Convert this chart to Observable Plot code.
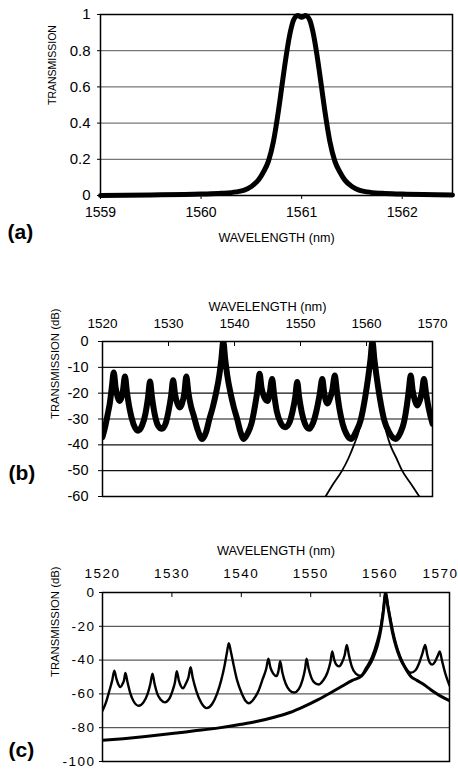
<!DOCTYPE html>
<html><head><meta charset="utf-8">
<script src="https://cdn.jsdelivr.net/npm/d3@7"></script>
<script src="https://cdn.jsdelivr.net/npm/@observablehq/plot@0.6"></script>
<style>
html,body{margin:0;padding:0;background:#fff;}
#root{position:relative;width:458px;height:769px;overflow:hidden;background:#fff;}
.panel{position:absolute;left:0;}
</style></head><body><div id="root"></div>
<script>
// ---------- Panel (a) ----------
const aXTicks = [1559, 1560, 1561, 1562];
const aYTicks = [0, 0.2, 0.4, 0.6, 0.8, 1];
const aWavelength = [1559, 1559.5, 1560, 1560.2, 1560.35, 1560.43, 1560.5, 1560.57, 1560.62, 1560.67, 1560.72, 1560.77, 1560.8, 1560.83, 1560.86, 1560.89, 1560.92, 1560.96, 1561, 1561.04, 1561.08, 1561.11, 1561.14, 1561.17, 1561.2, 1561.23, 1561.28, 1561.33, 1561.38, 1561.43, 1561.5, 1561.57, 1561.65, 1561.8, 1562, 1562.5];
const aTransmission = [0, 0.003, 0.008, 0.012, 0.02, 0.03, 0.05, 0.085, 0.13, 0.19, 0.3, 0.47, 0.59, 0.71, 0.82, 0.91, 0.97, 0.995, 0.985, 0.995, 0.97, 0.91, 0.82, 0.71, 0.59, 0.47, 0.3, 0.19, 0.13, 0.085, 0.05, 0.03, 0.02, 0.012, 0.008, 0.003];

// ---------- Panel (b) ----------
const bXTicks = [1520, 1530, 1540, 1550, 1560, 1570];
const bYTicks = [0, -10, -20, -30, -40, -50, -60];
const bCombWavelength = [1520.0,1520.4,1520.8,1521.1,1521.4,1521.7,1522.0,1522.3,1522.6,1522.9,1523.1,1523.4,1523.7,1524.1,1524.7,1525.4,1526.0,1526.5,1526.9,1527.2,1527.5,1527.9,1528.4,1529.0,1529.6,1530.0,1530.4,1530.7,1531.0,1531.35,1531.7,1532.05,1532.4,1532.7,1533.0,1533.4,1533.8,1534.4,1535.1,1535.7,1536.2,1536.7,1537.2,1537.7,1538.0,1538.3,1538.6,1538.9,1539.4,1539.9,1540.4,1540.9,1541.4,1542.0,1542.6,1543.1,1543.5,1543.8,1544.1,1544.5,1545.0,1545.3,1545.7,1546.0,1546.4,1547.0,1547.7,1548.3,1548.8,1549.2,1549.5,1549.8,1550.2,1550.7,1551.3,1551.9,1552.4,1552.9,1553.3,1553.6,1553.85,1554.1,1554.4,1554.8,1555.2,1555.5,1555.9,1556.4,1557.0,1557.7,1558.4,1559.1,1559.8,1560.3,1560.6,1560.9,1561.2,1561.5,1562.0,1562.7,1563.4,1564.4,1565.1,1565.7,1566.1,1566.4,1566.7,1567.0,1567.35,1567.7,1568.05,1568.4,1568.7,1569.0,1569.4,1570.0];
const bCombDb = [-37,-33,-28,-24,-18,-12,-18,-21.5,-23,-21.5,-19,-13.5,-19.5,-26,-32,-34.5,-32.5,-28,-21.6,-15.5,-21.6,-28,-32.5,-33.8,-31.5,-27,-21,-15,-20.5,-24,-25.5,-24,-20,-13.5,-19.5,-25,-28.5,-34,-37.7,-35,-30,-25.5,-20,-13,-7,0,-7,-13,-20,-25.5,-30,-35,-37.7,-35.5,-31.5,-25,-18.5,-12.5,-18,-21.5,-23,-20.5,-14.5,-20.5,-27,-31.5,-33.2,-31.5,-27,-21.6,-15.7,-21.6,-27.5,-32,-33.8,-31.5,-27,-20.5,-14.5,-20,-23,-24,-22.5,-19,-13.2,-19,-26,-32,-36,-37.7,-35,-30.6,-21.6,-13,-7,0,-7,-13,-21.6,-30.6,-35,-37.7,-35.5,-31,-25,-19,-13.2,-19,-23,-24.8,-23,-19.5,-14.5,-19.5,-25.5,-31.8];
const bSingleWavelength = [1553.8,1555.0,1556.3,1557.3,1558.1,1558.8,1559.4,1559.9,1560.4,1560.9,1561.4,1561.9,1562.4,1563.0,1563.6,1564.5,1565.4,1566.7,1568.0];
const bSingleDb = [-60,-55,-50,-45,-40,-35,-28,-20,-11,0,-11,-20,-28,-35,-40,-45,-50,-55,-60];

// ---------- Panel (c) ----------
const cXTicks = [1520, 1530, 1540, 1550, 1560, 1570];
const cYTicks = [0, -20, -40, -60, -80, -100];
const cCombWavelength = [1520.0,1520.5,1521.0,1521.4,1521.7,1522.0,1522.3,1522.6,1522.9,1523.1,1523.3,1523.6,1524.0,1524.5,1525.2,1525.9,1526.5,1526.9,1527.2,1527.5,1527.9,1528.4,1529.0,1529.6,1530.1,1530.45,1530.7,1531.0,1531.3,1531.6,1532.0,1532.4,1532.7,1533.0,1533.5,1534.2,1535.0,1535.8,1536.5,1537.1,1537.6,1537.95,1538.2,1538.5,1538.9,1539.4,1540.1,1540.6,1541.1,1541.8,1542.5,1543.1,1543.6,1543.9,1544.2,1544.6,1545.1,1545.35,1545.6,1545.9,1546.4,1547.0,1547.6,1548.3,1548.8,1549.2,1549.4,1549.7,1550.1,1550.6,1551.2,1551.8,1552.4,1552.85,1553.1,1553.4,1553.75,1554.1,1554.5,1554.9,1555.2,1555.5,1555.9,1556.5,1557.2,1558.0,1558.8,1559.5,1560.1,1560.45,1560.8,1561.1,1561.4,1561.8,1562.3,1562.9,1563.6,1564.4,1565.1,1565.7,1566.1,1566.5,1566.8,1567.15,1567.5,1567.9,1568.3,1568.6,1568.9,1569.4,1570.0];
const cCombDb = [-70,-65,-58,-52,-46.2,-51,-54.5,-56,-54,-52,-47.6,-53,-59.5,-64.5,-67,-65,-60,-54,-48,-54,-60,-63.5,-65,-63,-58,-53,-46.6,-52,-55.5,-56.7,-54,-50,-44.2,-50.5,-58,-65,-68.4,-66,-60,-52,-43,-35,-30,-35,-43,-52,-60,-64,-65.5,-63,-58,-51,-45,-39.2,-44.5,-48,-49.5,-46.5,-40.7,-47,-54,-58,-59.2,-57,-52,-45,-39.2,-45,-50.5,-53.5,-54.4,-52,-47.5,-41,-34.9,-40,-43,-43.7,-41.5,-37,-31,-37,-43.5,-48,-49.3,-44.5,-38.5,-30,-20,-10.5,0,-7,-13.5,-22,-30.5,-38,-44,-47.5,-46,-41,-36,-31,-37,-41.5,-42.7,-41,-37.5,-34.9,-40,-48,-55];
const cSingleWavelength = [1520,1523,1526.2,1530,1533,1536.8,1540,1542,1545,1547,1549,1551,1553,1554.5,1556,1557.3,1558.2,1559.0,1559.6,1560.1,1560.45,1560.8,1561.1,1561.4,1561.8,1562.3,1562.9,1563.6,1564.4,1565.3,1566.3,1567.3,1568.6,1570];
const cSingleDb = [-87.5,-86.5,-85.2,-83.5,-82,-80.1,-78,-76.5,-73.5,-71,-67.5,-63.5,-59,-55.5,-52,-49.5,-44.5,-38.5,-31.5,-22,-12,0,-8,-15,-24,-32,-39,-44.5,-49.5,-52,-54.5,-57.5,-61,-64];

const xTitle = "WAVELENGTH (nm)";
const yTitleA = "TRANSMISSION";
const yTitleDb = "TRANSMISSION (dB)";

const zip = (xs, ys) => xs.map((w, i) => ({w, v: ys[i]}));
const font = "'Liberation Sans', Arial, Helvetica, sans-serif";
const baseStyle = {fontFamily: font, fontSize: "13px", color: "#000", background: "#fff", overflow: "visible"};
const fmt = d => String(d);
const root = document.getElementById("root");
function place(el, top) { const d = document.createElement("div"); d.className = "panel"; d.style.top = top + "px"; d.appendChild(el); root.appendChild(d); return el; }

// Panel (a)
const chartA = Plot.plot({
  width: 458, height: 255,
  marginLeft: 100, marginRight: 6, marginTop: 14, marginBottom: 60,
  style: baseStyle,
  x: {domain: [1559, 1562.5]},
  y: {domain: [0, 1]},
  marks: [
    Plot.gridY(aYTicks, {stroke: "#555", strokeOpacity: 1, strokeWidth: 1}),
    Plot.line(zip(aWavelength, aTransmission), {x: "w", y: "v", stroke: "#000", strokeWidth: 5, curve: "monotone-x"}),
    Plot.frame({stroke: "#000", strokeWidth: 1.5}),
    Plot.axisX(aXTicks, {anchor: "bottom", tickSize: 4, tickPadding: 8, label: null, tickFormat: fmt, fontSize: 14}),
    Plot.axisY(aYTicks, {anchor: "left", tickSize: 3, tickPadding: 7, label: null, tickFormat: fmt, fontSize: 15}),
    Plot.text([xTitle], {text: d => d, frameAnchor: "bottom", dy: 46, fontSize: 12.6}),
    Plot.text([yTitleA], {text: d => d, frameAnchor: "left", dx: -48, rotate: -90, fontSize: 10.5}),
    Plot.text(["(a)"], {text: d => d, frameAnchor: "bottom-left", dx: -93, dy: 43, textAnchor: "start", fontWeight: "bold", fontSize: 21})
  ]
});
place(chartA, 0);

// Panel (b)
const chartB = Plot.plot({
  width: 458, height: 255,
  marginLeft: 102, marginRight: 26, marginTop: 86, marginBottom: 14,
  style: baseStyle,
  x: {domain: [1520, 1570]},
  y: {domain: [-60, 0]},
  marks: [
    Plot.gridY(bYTicks, {stroke: "#111", strokeOpacity: 1, strokeWidth: 1.2}),
    Plot.line(zip(bSingleWavelength, bSingleDb), {x: "w", y: "v", stroke: "#000", strokeWidth: 1.8, curve: "monotone-x", clip: true}),
    Plot.line(zip(bCombWavelength, bCombDb), {x: "w", y: "v", stroke: "#000", strokeWidth: 6, curve: "monotone-x", clip: true}),
    Plot.frame({stroke: "#000", strokeWidth: 1.5}),
    Plot.axisX(bXTicks, {anchor: "top", tickSize: -4, tickPadding: 18, label: null, tickFormat: fmt, fontSize: 13.5}),
    Plot.axisY(bYTicks, {anchor: "left", tickSize: 4, tickPadding: 10, label: null, tickFormat: fmt, fontSize: 14.5}),
    Plot.text([xTitle], {text: d => d, frameAnchor: "top", dy: -40, fontSize: 12.8}),
    Plot.text([yTitleDb], {text: d => d, frameAnchor: "left", dx: -47, rotate: -90, fontSize: 11.3}),
    Plot.text(["(b)"], {text: d => d, frameAnchor: "bottom-left", dx: -94, dy: -17, textAnchor: "start", fontWeight: "bold", fontSize: 21})
  ]
});
place(chartB, 255);

// Panel (c)
const chartC = Plot.plot({
  width: 458, height: 259,
  marginLeft: 102, marginRight: 9, marginTop: 82, marginBottom: 8,
  style: baseStyle,
  x: {domain: [1520, 1570]},
  y: {domain: [-100, 0]},
  marks: [
    Plot.gridY(cYTicks, {stroke: "#333", strokeOpacity: 1, strokeWidth: 1}),
    Plot.line(zip(cSingleWavelength, cSingleDb), {x: "w", y: "v", stroke: "#000", strokeWidth: 3, curve: "monotone-x", clip: true}),
    Plot.line(zip(cCombWavelength, cCombDb), {x: "w", y: "v", stroke: "#000", strokeWidth: 2.4, curve: "monotone-x", clip: true}),
    Plot.frame({stroke: "#000", strokeWidth: 1.5}),
    Plot.axisX(cXTicks, {anchor: "top", tickSize: -4, tickPadding: 19, label: null, tickFormat: fmt, fontSize: 13.5}),
    Plot.axisY(cYTicks, {anchor: "left", tickSize: 3, tickPadding: 4, label: null, tickFormat: fmt, fontSize: 13.5}),
    Plot.text([xTitle], {text: d => d, frameAnchor: "top", dy: -47, fontSize: 12.8}),
    Plot.text([yTitleDb], {text: d => d, frameAnchor: "left", dx: -47, rotate: -90, fontSize: 11.3}),
    Plot.text(["(c)"], {text: d => d, frameAnchor: "bottom-left", dx: -94, dy: -5, textAnchor: "start", fontWeight: "bold", fontSize: 21})
  ]
});
place(chartC, 510);
d3.select(chartC).selectAll('g[aria-label="x-axis tick label"] text').attr("letter-spacing", "1.5px");
d3.select(chartC).selectAll('g[aria-label="y-axis tick label"] text').attr("letter-spacing", "1.5px");
// keep the last top label inside the page edge
const lastC = d3.select(chartC).selectAll('g[aria-label="x-axis tick label"] text').filter((d, i, n) => i === n.length - 1);
lastC.attr("text-anchor", "end").attr("dx", 9);
</script>
</body></html>
